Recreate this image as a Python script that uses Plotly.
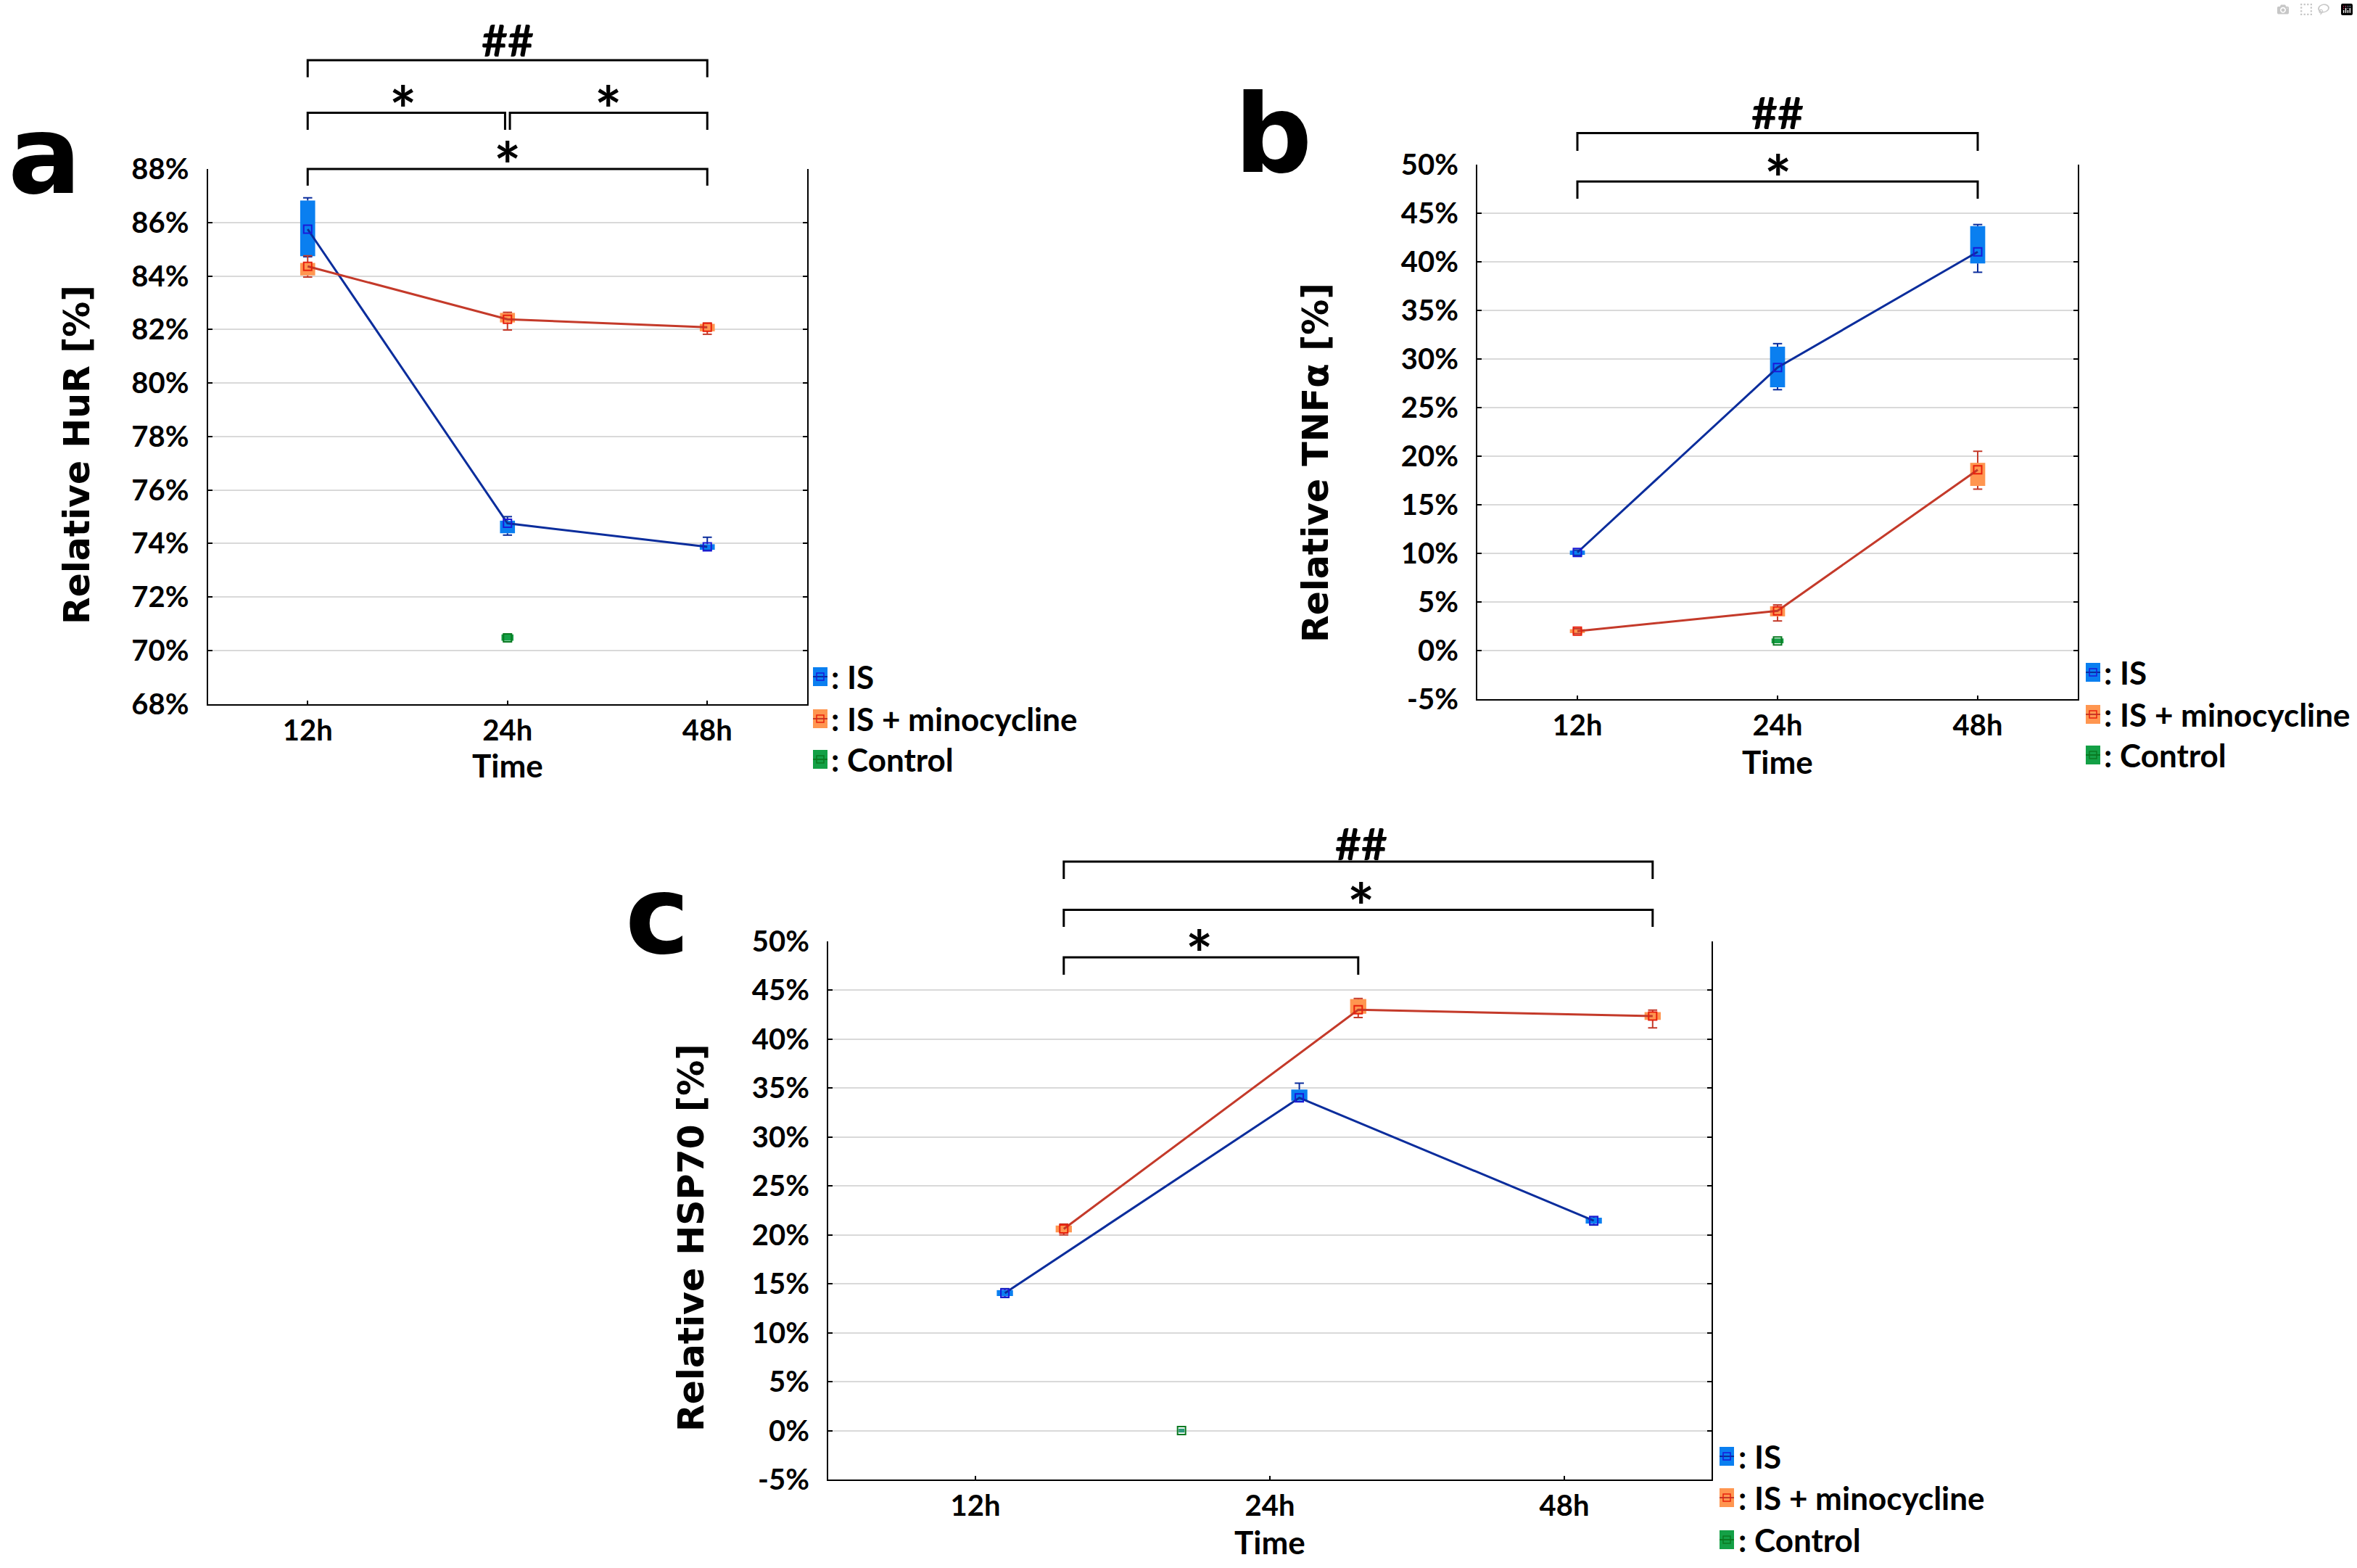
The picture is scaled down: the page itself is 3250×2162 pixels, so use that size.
import plotly.graph_objects as go

# ---------------- data ----------------
hours = ["12h", "24h", "48h"]
hour_idx = [0, 1, 2]

# y tick values / labels (reference uses a plain hyphen for negatives)
hur_ticks = [68, 70, 72, 74, 76, 78, 80, 82, 84, 86, 88]
pct_ticks = [-5, 0, 5, 10, 15, 20, 25, 30, 35, 40, 45, 50]

# Panel a: Relative HuR [%]
hur_is_mean = [85.75, 74.75, 73.87]
hur_is_box_lo = [84.74, 74.38, 73.76]
hur_is_box_hi = [86.82, 74.85, 73.97]
hur_is_wlo = [84.72, 74.31, 73.74]
hur_is_whi = [86.92, 75.00, 74.23]
hur_min_mean = [84.36, 82.38, 82.08]
hur_min_box_lo = [84.02, 82.26, 81.93]
hur_min_box_hi = [84.49, 82.62, 82.21]
hur_min_wlo = [83.96, 81.98, 81.82]
hur_min_whi = [84.75, 82.64, 82.24]
hur_ctrl_mean = [70.47]
hur_ctrl_box_lo = [70.36]
hur_ctrl_box_hi = [70.60]

# Panel b: Relative TNFα [%]
tnf_is_mean = [10.10, 29.14, 41.05]
tnf_is_box_lo = [9.85, 27.10, 39.86]
tnf_is_box_hi = [10.30, 31.29, 43.70]
tnf_is_wlo = [9.80, 26.86, 38.95]
tnf_is_whi = [10.35, 31.60, 43.86]
tnf_min_mean = [2.00, 4.09, 18.62]
tnf_min_box_lo = [1.80, 3.52, 16.95]
tnf_min_box_hi = [2.20, 4.57, 19.33]
tnf_min_wlo = [1.75, 3.05, 16.62]
tnf_min_whi = [2.25, 4.70, 20.52]
tnf_ctrl_mean = [1.00]
tnf_ctrl_box_lo = [0.75]
tnf_ctrl_box_hi = [1.25]

# Panel c: Relative HSP70 [%]
hsp_is_mean = [14.05, 34.00, 21.45]
hsp_is_box_lo = [13.75, 33.70, 21.15]
hsp_is_box_hi = [14.35, 34.85, 21.75]
hsp_is_wlo = [13.60, 33.60, 21.00]
hsp_is_whi = [14.50, 35.50, 21.85]
hsp_min_mean = [20.60, 43.00, 42.36]
hsp_min_box_lo = [20.25, 42.60, 41.96]
hsp_min_box_hi = [20.95, 44.10, 42.76]
hsp_min_wlo = [20.00, 42.20, 41.15]
hsp_min_whi = [21.10, 44.15, 42.96]
hsp_ctrl_mean = [0.00]
hsp_ctrl_box_lo = [-0.20]
hsp_ctrl_box_hi = [0.20]

legend_labels = [": IS", ": IS + minocycline", ": Control"]

# ---------------- style ----------------
W, H = 3250, 2162
IS_FILL, IS_DARK, IS_MK = "#0a7ff0", "#0b2d9c", "#1a1ad8"
MIN_FILL, MIN_DARK, MIN_MK = "#ff9650", "#c43a2a", "#e8200c"
CT_FILL, CT_DARK, CT_MK = "#14a046", "#0a7a22", "#0a7a22"
TICKFONT = dict(family="Lato", size=40, color="black", weight="bold")
TITLEFONT = dict(family="DejaVu Sans", size=49, color="black", weight="bold")


def px(x):
    return x / W


def py(y):
    return 1 - y / H


fig = go.Figure()


def add_group(xa, ya, xs, mean, blo, bhi, wlo=None, whi=None, fill="", dark="",
              mk="", bw=0.08, lines=True):
    fig.add_trace(go.Bar(x=xs, y=[h - l for h, l in zip(bhi, blo)], base=blo,
                         width=bw, marker=dict(color=fill, line=dict(width=0)),
                         xaxis=xa, yaxis=ya, showlegend=False, hoverinfo="skip"))
    if wlo is not None:
        sx, sy = [], []
        for x, l, h, bl, bh in zip(xs, wlo, whi, blo, bhi):
            sx += [x, x, None, x, x, None]
            sy += [bh, h, None, bl, l, None]
        fig.add_trace(go.Scatter(x=sx, y=sy, mode="lines",
                                 line=dict(color=dark, width=2),
                                 xaxis=xa, yaxis=ya, showlegend=False,
                                 hoverinfo="skip"))
        fig.add_trace(go.Scatter(x=list(xs) + list(xs), y=list(whi) + list(wlo),
                                 mode="markers",
                                 marker=dict(symbol="line-ew", size=9,
                                             line=dict(color=dark, width=2)),
                                 xaxis=xa, yaxis=ya, showlegend=False,
                                 hoverinfo="skip"))
    fig.add_trace(go.Scatter(x=xs, y=mean, mode="lines+markers" if lines else "markers",
                             line=dict(color=dark, width=3),
                             marker=dict(symbol="square-open", size=11,
                                         line=dict(color=mk, width=2), color=mk),
                             xaxis=xa, yaxis=ya, showlegend=False))


# Panel a
add_group("x", "y", hour_idx, hur_is_mean, hur_is_box_lo, hur_is_box_hi,
          hur_is_wlo, hur_is_whi, IS_FILL, IS_DARK, IS_MK, 0.075)
add_group("x", "y", hour_idx, hur_min_mean, hur_min_box_lo, hur_min_box_hi,
          hur_min_wlo, hur_min_whi, MIN_FILL, MIN_DARK, MIN_MK, 0.075)
add_group("x", "y", [1], hur_ctrl_mean, hur_ctrl_box_lo, hur_ctrl_box_hi,
          None, None, CT_FILL, CT_DARK, CT_MK, 0.06, lines=False)

# Panel b
add_group("x2", "y2", hour_idx, tnf_is_mean, tnf_is_box_lo, tnf_is_box_hi,
          tnf_is_wlo, tnf_is_whi, IS_FILL, IS_DARK, IS_MK, 0.075)
add_group("x2", "y2", hour_idx, tnf_min_mean, tnf_min_box_lo, tnf_min_box_hi,
          tnf_min_wlo, tnf_min_whi, MIN_FILL, MIN_DARK, MIN_MK, 0.075)
add_group("x2", "y2", [1], tnf_ctrl_mean, tnf_ctrl_box_lo, tnf_ctrl_box_hi,
          None, None, CT_FILL, CT_DARK, CT_MK, 0.06, lines=False)

# Panel c (groups are shifted horizontally in the original figure)
C_SHIFT_IS, C_SHIFT_MIN, C_SHIFT_CT = 0.1, 0.3, -0.3
add_group("x3", "y3", [i + C_SHIFT_IS for i in hour_idx], hsp_is_mean,
          hsp_is_box_lo, hsp_is_box_hi, hsp_is_wlo, hsp_is_whi,
          IS_FILL, IS_DARK, IS_MK, 0.055)
add_group("x3", "y3", [i + C_SHIFT_MIN for i in hour_idx], hsp_min_mean,
          hsp_min_box_lo, hsp_min_box_hi, hsp_min_wlo, hsp_min_whi,
          MIN_FILL, MIN_DARK, MIN_MK, 0.055)
add_group("x3", "y3", [1 + C_SHIFT_CT], hsp_ctrl_mean, hsp_ctrl_box_lo,
          hsp_ctrl_box_hi, None, None, "#2a9a7a", CT_DARK, CT_MK, 0.02,
          lines=False)


def xax(dom, anchor):
    return dict(domain=dom, anchor=anchor, range=[-0.5, 2.5], tickvals=hour_idx,
                ticktext=hours, showgrid=False, zeroline=False, showline=True,
                linecolor="black", linewidth=2, ticks="inside", ticklen=5,
                tickwidth=2, tickcolor="black", tickfont=TICKFONT,
                ticklabelstandoff=0, fixedrange=True, automargin=False)


def yax(dom, anchor, rng, ticks):
    return dict(domain=dom, anchor=anchor, range=rng, tickmode="array",
                tickvals=ticks, ticktext=[f"{t}%" for t in ticks],
                showgrid=True, gridcolor="#d9d9d9", gridwidth=2,
                zeroline=False, showline=True, linecolor="black", linewidth=2,
                mirror="ticks", ticks="inside", ticklen=6, tickwidth=2,
                tickcolor="black", tickfont=TICKFONT, ticklabelstandoff=16,
                fixedrange=True, automargin=False)


fig.update_layout(
    width=W, height=H,
    margin=dict(l=0, r=0, t=0, b=0, pad=0, autoexpand=False),
    paper_bgcolor="white", plot_bgcolor="white", barmode="overlay",
    showlegend=False,
    xaxis=xax([px(286.5), px(1113)], "y"),
    yaxis=yax([py(970.5), py(233)], "x", [68, 88], hur_ticks),
    xaxis2=xax([px(2037), px(2865)], "y2"),
    yaxis2=yax([py(964), py(227.4)], "x2", [-5, 50], pct_ticks),
    xaxis3=xax([px(1142), px(2360)], "y3"),
    yaxis3=yax([py(2040), py(1297.8)], "x3", [-5, 50], pct_ticks),
)

ann = []
shapes = []


def text(x, y, s, font, xref="paper", xanchor="center", yanchor="middle", angle=0):
    ann.append(dict(x=x, y=y, xref=xref, yref="paper", text=s, showarrow=False,
                    font=font, xanchor=xanchor, yanchor=yanchor, textangle=angle))


def bracket(xref, x0, x1, yline, ytick):
    shapes.append(dict(type="path", xref=xref, yref="paper",
                       path=f"M {x0},{py(ytick)} L {x0},{py(yline)} L {x1},{py(yline)} L {x1},{py(ytick)}",
                       line=dict(color="black", width=3)))


STAR = dict(family="Lato", size=88, color="black", weight="bold")
HASH = dict(family="Lato", size=62, color="black", weight="bold")
LETTER = dict(family="DejaVu Sans", size=150, color="black", weight="bold")
LEG = dict(family="Lato", size=44, color="black", weight="bold")

# panel letters
text(px(61), py(214), "a", LETTER)
text(px(1756), py(185), "b", LETTER)
text(px(907), py(1262), "c", LETTER)

# axis titles
text(px(106), py(627), "Relative HuR [%]", TITLEFONT, angle=-90)
text(px(1814), py(638), "Relative TNFα [%]", TITLEFONT, angle=-90)
text(px(953), py(1707), "Relative HSP70 [%]", TITLEFONT, angle=-90)

# x titles
text(1, py(1055), "Time", LEG, xref="x")
text(1, py(1050), "Time", LEG, xref="x2")
text(1, py(2126), "Time", LEG, xref="x3")

# significance brackets - panel a
bracket("x", 0, 2, 83, 106.5)
text(1, py(54), "##", HASH, xref="x")
bracket("x", 0, 0.988, 155.6, 179)
bracket("x", 1.012, 2, 155.6, 179)
text(0.477, py(150), "*", STAR, xref="x")
text(1.505, py(150), "*", STAR, xref="x")
bracket("x", 0, 2, 233, 256)
text(1, py(227), "*", STAR, xref="x")

# panel b
bracket("x2", 0, 2, 183.4, 208)
text(1, py(154), "##", HASH, xref="x2")
bracket("x2", 0, 2, 250.3, 274)
text(1, py(245), "*", STAR, xref="x2")

# panel c
bracket("x3", 0.3, 2.3, 1188, 1212)
text(1.31, py(1162), "##", HASH, xref="x3")
bracket("x3", 0.3, 2.3, 1254.5, 1278)
text(1.31, py(1249), "*", STAR, xref="x3")
bracket("x3", 0.3, 1.3, 1320, 1344)
text(0.76, py(1314), "*", STAR, xref="x3")

# legends
leg_colors = [(IS_FILL, IS_DARK, IS_MK), (MIN_FILL, MIN_DARK, MIN_MK),
              (CT_FILL, CT_DARK, CT_MK)]


def legend(x_icon, x_text, rows):
    for (fill, dark, mk), lab, yc in zip(leg_colors, legend_labels, rows):
        shapes.append(dict(type="rect", xref="paper", yref="paper",
                           x0=px(x_icon), x1=px(x_icon + 20), y0=py(yc + 13),
                           y1=py(yc - 13), fillcolor=fill, line=dict(width=0)))
        shapes.append(dict(type="line", xref="paper", yref="paper",
                           x0=px(x_icon), x1=px(x_icon + 20), y0=py(yc), y1=py(yc),
                           line=dict(color=dark, width=2)))
        shapes.append(dict(type="rect", xref="paper", yref="paper",
                           x0=px(x_icon + 5), x1=px(x_icon + 15), y0=py(yc + 5),
                           y1=py(yc - 5), line=dict(color=mk, width=1.5)))
        text(px(x_text), py(yc), lab, LEG, xanchor="left")


legend(1121, 1144, [933, 991, 1047])
legend(2876, 2899, [927, 985, 1041])
legend(2371, 2395, [2008, 2065, 2123])

fig.update_layout(annotations=ann, shapes=shapes)

fig.write_html("out.html", post_script="document.body.style.margin='0';")
